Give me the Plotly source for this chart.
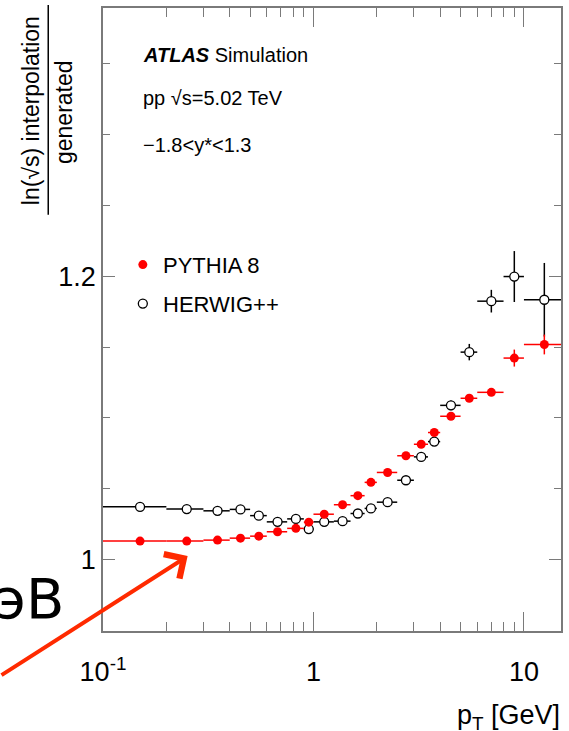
import plotly.graph_objects as go
import math

# ---- data ----
pt_center = [0.15, 0.25, 0.35, 0.45, 0.55, 0.675, 0.825, 0.95, 1.125, 1.375, 1.625,
             1.875, 2.25, 2.75, 3.25, 3.75, 4.5, 5.5, 7.0, 9.0, 12.5]
pt_low = [0.1, 0.2, 0.3, 0.4, 0.5, 0.6, 0.75, 0.9, 1.0, 1.25, 1.5,
          1.75, 2.0, 2.5, 3.0, 3.5, 4.0, 5.0, 6.0, 8.0, 10.0]
pt_high = [0.2, 0.3, 0.4, 0.5, 0.6, 0.75, 0.9, 1.0, 1.25, 1.5, 1.75,
           2.0, 2.5, 3.0, 3.5, 4.0, 5.0, 6.0, 8.0, 10.0, 15.0]

pythia = [1.0129, 1.0129, 1.0136, 1.0150, 1.0164, 1.0195, 1.0219, 1.0263, 1.0319, 1.0386, 1.0450,
          1.0544, 1.0614, 1.0732, 1.0813, 1.0896, 1.1011, 1.1138, 1.1180, 1.1422, 1.1518]
pythia_err = [0.0005, 0.0005, 0.0005, 0.0005, 0.0005, 0.0005, 0.0005, 0.0005, 0.0006, 0.0006, 0.0007,
              0.0008, 0.0008, 0.0009, 0.001, 0.0012, 0.0015, 0.002, 0.002, 0.006, 0.007]

herwig = [1.0371, 1.0355, 1.0343, 1.0353, 1.0309, 1.0265, 1.0286, 1.0214, 1.0265, 1.0270, 1.0324,
          1.0360, 1.0404, 1.0559, 1.0724, 1.0832, 1.1088, 1.1464, 1.1824, 1.1998, 1.1834]
herwig_err = [0.0005, 0.0005, 0.0005, 0.0005, 0.0005, 0.0005, 0.0005, 0.0005, 0.0006, 0.0006, 0.0007,
              0.0008, 0.0009, 0.001, 0.0012, 0.0015, 0.0035, 0.0058, 0.008, 0.018, 0.026]

x_tick_vals = [0.1, 1, 10]
x_tick_text = ["10<sup>-1</sup>", "1", "10"]
x_minor_vals = [0.2, 0.3, 0.4, 0.5, 0.6, 0.7, 0.8, 0.9, 2, 3, 4, 5, 6, 7, 8, 9]
y_tick_vals = [1.0, 1.2]
y_tick_text = ["1", "1.2"]
y_minor_vals = [0.95, 1.05, 1.1, 1.15, 1.25, 1.3, 1.35]

x_plus = [h - c for h, c in zip(pt_high, pt_center)]
x_minus = [c - l for l, c in zip(pt_low, pt_center)]

W, H = 569, 731
L, R, T, B = 103, 6, 7, 100
PW, PH = W - L - R, H - T - B


def px(xp):
    return (xp - L) / PW


def py(yp):
    return (H - B - yp) / PH


FONT = "Liberation Sans, Arial, sans-serif"
AXC = "#7a7a7a"

fig = go.Figure()

fig.add_trace(go.Scatter(
    x=pt_center, y=herwig, mode="markers", name="HERWIG++",
    marker=dict(symbol="circle", size=9, color="white", line=dict(color="black", width=1.3)),
    error_x=dict(type="data", symmetric=False, array=x_plus, arrayminus=x_minus,
                 color="black", thickness=1.5, width=0),
    error_y=dict(type="data", array=herwig_err, color="black", thickness=1.5, width=0),
    showlegend=False,
))
fig.add_trace(go.Scatter(
    x=pt_center, y=pythia, mode="markers", name="PYTHIA 8",
    marker=dict(symbol="circle", size=9, color="#ff0000", line=dict(width=0)),
    error_x=dict(type="data", symmetric=False, array=x_plus, arrayminus=x_minus,
                 color="#ff0000", thickness=1.5, width=0),
    error_y=dict(type="data", array=pythia_err, color="#ff0000", thickness=1.5, width=0),
    showlegend=False,
))

# legend markers drawn as points in paper space
fig.add_trace(go.Scatter(
    x=[px(143)], y=[py(264)], xaxis="x2", yaxis="y2", mode="markers",
    marker=dict(symbol="circle", size=9, color="#ff0000"), showlegend=False, hoverinfo="skip"))
fig.add_trace(go.Scatter(
    x=[px(143)], y=[py(303)], xaxis="x2", yaxis="y2", mode="markers",
    marker=dict(symbol="circle", size=9, color="white", line=dict(color="black", width=1.3)),
    showlegend=False, hoverinfo="skip"))

annotations = [
    dict(text="<b><i>ATLAS</i></b> Simulation", x=px(141), y=py(54), xref="paper", yref="paper",
         xanchor="left", yanchor="middle", showarrow=False, font=dict(family=FONT, size=20, color="black")),
    dict(text="pp √s=5.02 TeV", x=px(141), y=py(97), xref="paper", yref="paper",
         xanchor="left", yanchor="middle", showarrow=False, font=dict(family=FONT, size=20, color="black")),
    dict(text="−1.8&lt;y*&lt;1.3", x=px(141), y=py(144), xref="paper", yref="paper",
         xanchor="left", yanchor="middle", showarrow=False, font=dict(family=FONT, size=20, color="black")),
    dict(text="PYTHIA 8", x=px(161), y=py(265), xref="paper", yref="paper",
         xanchor="left", yanchor="middle", showarrow=False, font=dict(family=FONT, size=22, color="black")),
    dict(text="HERWIG++", x=px(161), y=py(304), xref="paper", yref="paper",
         xanchor="left", yanchor="middle", showarrow=False, font=dict(family=FONT, size=22, color="black")),
    # y title as a fraction
    dict(text="ln(√s) interpolation", x=px(31), y=py(110), xref="paper", yref="paper",
         xanchor="center", yanchor="middle", textangle=-90, showarrow=False,
         font=dict(family=FONT, size=23, color="black")),
    dict(text="generated", x=px(64), y=py(111), xref="paper", yref="paper",
         xanchor="center", yanchor="middle", textangle=-90, showarrow=False,
         font=dict(family=FONT, size=23, color="black")),
    # x title
    dict(text="p<sub>T</sub> [GeV]", x=px(564), y=py(717), xref="paper", yref="paper",
         xanchor="right", yanchor="middle", showarrow=False,
         font=dict(family=FONT, size=27, color="black")),
    # overlay text
    dict(text="ТэВ", x=px(66), y=py(598), xref="paper", yref="paper",
         xanchor="right", yanchor="middle", showarrow=False,
         font=dict(family="DejaVu Sans", size=56, color="black")),
    # overlay arrow
    dict(text="", x=px(188), y=py(556), xref="paper", yref="paper",
         ax=-200, ay=120, showarrow=True, arrowhead=4, arrowsize=1.4, arrowwidth=4,
         arrowcolor="#ff2a00", standoff=0),
]

shapes = [
    dict(type="line", xref="paper", yref="paper", x0=px(48), x1=px(48), y0=py(214), y1=py(4),
         line=dict(color="black", width=1.5)),
]

fig.update_layout(
    width=W, height=H,
    margin=dict(l=L, r=R, t=T, b=B, pad=0),
    paper_bgcolor="white", plot_bgcolor="white",
    showlegend=False,
    annotations=annotations,
    shapes=shapes,
    xaxis=dict(
        type="log", range=[-1, math.log10(15)],
        tickmode="array", tickvals=x_tick_vals, ticktext=x_tick_text,
        ticks="inside", ticklen=19, tickwidth=1, tickcolor=AXC,
        minor=dict(tickmode="array", tickvals=x_minor_vals, ticks="inside", ticklen=9,
                   tickwidth=1, tickcolor=AXC, showgrid=False),
        showline=True, linecolor=AXC, linewidth=1.5, mirror="ticks",
        showgrid=False, zeroline=False,
        tickfont=dict(family=FONT, size=27, color="black"),
        ticklabelstandoff=16,
    ),
    yaxis=dict(
        range=[0.9494, 1.3895],
        tickmode="array", tickvals=y_tick_vals, ticktext=y_tick_text,
        ticks="inside", ticklen=12, tickwidth=1, tickcolor=AXC,
        minor=dict(tickmode="array", tickvals=y_minor_vals, ticks="inside", ticklen=7,
                   tickwidth=1, tickcolor=AXC, showgrid=False),
        showline=True, linecolor=AXC, linewidth=1.5, mirror="ticks",
        showgrid=False, zeroline=False,
        tickfont=dict(family=FONT, size=27, color="black"),
        ticklabelstandoff=0,
    ),
    xaxis2=dict(range=[0, 1], visible=False, overlaying="x", fixedrange=True),
    yaxis2=dict(range=[0, 1], visible=False, overlaying="y", fixedrange=True),
)

fig.write_html("out.html")
